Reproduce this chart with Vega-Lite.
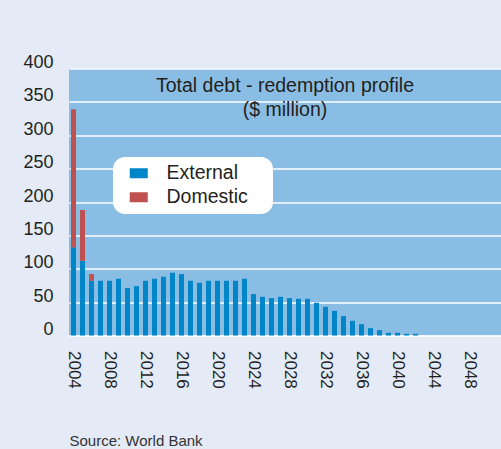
{
  "$schema": "https://vega.github.io/schema/vega-lite/v6.json",
  "autosize": "none",
  "width": 432,
  "height": 267,
  "padding": {"left": 69, "top": 68.5, "right": 0, "bottom": 113.5},
  "background": "#E4EAF6",
  "config": {
    "view": {"fill": "#89BDE3", "stroke": null},
    "font": "Liberation Sans"
  },
  "title": {
    "text": ["Total debt - redemption profile", "($ million)"],
    "anchor": "middle",
    "baseline": "top",
    "offset": -67,
    "fontSize": 19.5,
    "fontWeight": "normal",
    "color": "#231F20",
    "lineHeight": 24
  },
  "data": {
    "values": [
      {"year": 2004, "type": "External", "value": 132},
      {"year": 2004, "type": "Domestic", "value": 207},
      {"year": 2005, "type": "External", "value": 112},
      {"year": 2005, "type": "Domestic", "value": 76},
      {"year": 2006, "type": "External", "value": 82},
      {"year": 2006, "type": "Domestic", "value": 10},
      {"year": 2007, "type": "External", "value": 82},
      {"year": 2008, "type": "External", "value": 82},
      {"year": 2009, "type": "External", "value": 85},
      {"year": 2010, "type": "External", "value": 71},
      {"year": 2011, "type": "External", "value": 74},
      {"year": 2012, "type": "External", "value": 82},
      {"year": 2013, "type": "External", "value": 85},
      {"year": 2014, "type": "External", "value": 88},
      {"year": 2015, "type": "External", "value": 94},
      {"year": 2016, "type": "External", "value": 92},
      {"year": 2017, "type": "External", "value": 82},
      {"year": 2018, "type": "External", "value": 79},
      {"year": 2019, "type": "External", "value": 82},
      {"year": 2020, "type": "External", "value": 82},
      {"year": 2021, "type": "External", "value": 82},
      {"year": 2022, "type": "External", "value": 82},
      {"year": 2023, "type": "External", "value": 85},
      {"year": 2024, "type": "External", "value": 62},
      {"year": 2025, "type": "External", "value": 58},
      {"year": 2026, "type": "External", "value": 56},
      {"year": 2027, "type": "External", "value": 58},
      {"year": 2028, "type": "External", "value": 56},
      {"year": 2029, "type": "External", "value": 55},
      {"year": 2030, "type": "External", "value": 55},
      {"year": 2031, "type": "External", "value": 49},
      {"year": 2032, "type": "External", "value": 43},
      {"year": 2033, "type": "External", "value": 37},
      {"year": 2034, "type": "External", "value": 29},
      {"year": 2035, "type": "External", "value": 22},
      {"year": 2036, "type": "External", "value": 17},
      {"year": 2037, "type": "External", "value": 11},
      {"year": 2038, "type": "External", "value": 8},
      {"year": 2039, "type": "External", "value": 4},
      {"year": 2040, "type": "External", "value": 4},
      {"year": 2041, "type": "External", "value": 2.5},
      {"year": 2042, "type": "External", "value": 2.5}
    ]
  },
  "mark": {"type": "bar", "size": 5},
  "encoding": {
    "x": {
      "field": "year",
      "type": "quantitative",
      "scale": {"domain": [2003.5, 2051.5], "nice": false, "zero": false, "padding": 0},
      "axis": {
        "values": [2004, 2008, 2012, 2016, 2020, 2024, 2028, 2032, 2036, 2040, 2044, 2048],
        "format": "d",
        "labelAngle": 90,
        "labelFontSize": 17,
        "labelColor": "#231F20",
        "labelPadding": 15,
        "labelFlush": false,
        "labelOverlap": false,
        "ticks": false,
        "domain": false,
        "grid": false,
        "title": "Source: World Bank",
        "titleAnchor": "start",
        "titleAlign": "left",
        "titleBaseline": "alphabetic",
        "titleX": 0,
        "titleY": 109.5,
        "titleFontSize": 15,
        "titleFontWeight": "normal",
        "titleColor": "#333333"
      }
    },
    "y": {
      "field": "value",
      "type": "quantitative",
      "stack": "zero",
      "scale": {"domain": [0, 400], "nice": false},
      "axis": {
        "values": [0, 50, 100, 150, 200, 250, 300, 350, 400],
        "labelFontSize": 18,
        "labelColor": "#231F20",
        "labelPadding": 16,
        "labelOffset": -6,
        "labelFlush": false,
        "ticks": false,
        "domain": false,
        "grid": true,
        "gridColor": "#FFFFFF",
        "gridWidth": 1.5,
        "title": null
      }
    },
    "color": {
      "field": "type",
      "type": "nominal",
      "scale": {"domain": ["External", "Domestic"], "range": ["#0085C8", "#BF5150"]},
      "legend": {
        "title": ".",
        "titleOrient": "right",
        "titleColor": "#FFFFFF",
        "titleFontSize": 2,
        "titlePadding": 18,
        "orient": "none",
        "legendX": 44,
        "legendY": 88.5,
        "fillColor": "#FFFFFF",
        "cornerRadius": 12,
        "padding": 6.5,
        "symbolOffset": 9.5,
        "symbolType": "M-1,-0.556H1V0.556H-1Z",
        "symbolSize": 324,
        "symbolStrokeWidth": 0,
        "symbolOpacity": 1,
        "labelFontSize": 19.5,
        "labelColor": "#231F20",
        "labelOffset": 18,
        "rowPadding": 3
      }
    },
    "order": {"field": "type", "sort": "descending"}
  }
}
